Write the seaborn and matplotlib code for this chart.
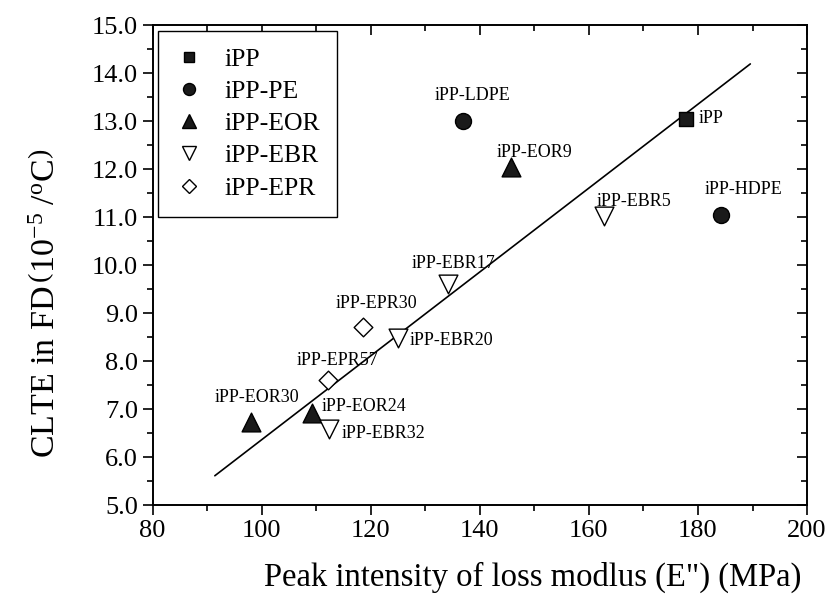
import numpy as np
import pandas as pd
import matplotlib
matplotlib.use("Agg")
import matplotlib.pyplot as plt
from matplotlib.lines import Line2D
from matplotlib.ticker import MultipleLocator, FormatStrFormatter
import seaborn as sns

# ---- data -------------------------------------------------------------
samples = ["iPP", "iPP-LDPE", "iPP-HDPE", "iPP-EOR9", "iPP-EOR24", "iPP-EOR30",
           "iPP-EBR5", "iPP-EBR17", "iPP-EBR20", "iPP-EBR32", "iPP-EPR30", "iPP-EPR57"]
groups = ["iPP", "iPP-PE", "iPP-PE", "iPP-EOR", "iPP-EOR", "iPP-EOR",
          "iPP-EBR", "iPP-EBR", "iPP-EBR", "iPP-EBR", "iPP-EPR", "iPP-EPR"]
loss_modulus = [177.8, 137.0, 184.3, 145.7, 109.3, 98.0,
                162.7, 134.1, 124.9, 112.4, 118.6, 112.1]
clte = [13.05, 13.0, 11.05, 12.05, 6.92, 6.72,
        11.03, 9.6, 8.48, 6.58, 8.7, 7.6]

# linear trend line end points
fit_x = [91.4, 189.6]
fit_y = [5.61, 14.19]

legend_order = ["iPP", "iPP-PE", "iPP-EOR", "iPP-EBR", "iPP-EPR"]

df = pd.DataFrame({"sample": samples, "group": groups,
                   "E": loss_modulus, "CLTE": clte})

# ---- styling ----------------------------------------------------------
sns.set_theme(style="ticks")
plt.rcParams["font.family"] = ["Liberation Serif", "DejaVu Serif"]
plt.rcParams["mathtext.fontset"] = "custom"
plt.rcParams["mathtext.rm"] = "Liberation Serif"
plt.rcParams["mathtext.it"] = "Liberation Serif:italic"
plt.rcParams["text.color"] = "black"
plt.rcParams["axes.labelcolor"] = "black"

marker_style = {
    "iPP":     dict(marker="s", s=9.5 ** 2, fc="#1a1a1a"),
    "iPP-PE":  dict(marker="o", s=11.5 ** 2, fc="#1a1a1a"),
    "iPP-EOR": dict(marker="^", s=13.5 ** 2, fc="#1a1a1a"),
    "iPP-EBR": dict(marker="v", s=13.5 ** 2, fc="white"),
    "iPP-EPR": dict(marker="D", s=9.5 ** 2, fc="white"),
}

fig = plt.figure(figsize=(8.37, 6.02), dpi=100)
ax = fig.add_axes([0.1824, 0.1611, 0.7818, 0.7973])

ax.plot(fit_x, fit_y, color="black", lw=1.2, zorder=2)

for g in legend_order:
    st = marker_style[g]
    sub = df[df["group"] == g]
    sns.scatterplot(data=sub, x="E", y="CLTE", ax=ax, marker=st["marker"],
                    s=st["s"], color=st["fc"], edgecolor="black",
                    linewidth=1.0, zorder=3, legend=False)

# sample labels: offset in points (dx, dy)
label_pos = {
    "iPP":       (9, -3),
    "iPP-LDPE":  (-21, 15),
    "iPP-HDPE":  (-12, 15),
    "iPP-EOR9":  (-10, 7),
    "iPP-EOR24": (7, 1),
    "iPP-EOR30": (-26, 15),
    "iPP-EBR5":  (-5, 7),
    "iPP-EBR17": (-26, 12),
    "iPP-EBR20": (9, -5),
    "iPP-EBR32": (9, -6),
    "iPP-EPR30": (-20, 14),
    "iPP-EPR57": (-22, 11),
}
for name, x, y in zip(samples, loss_modulus, clte):
    dx, dy = label_pos[name]
    ax.annotate(name, (x, y), xytext=(dx, dy), textcoords="offset points",
                ha="left", va="baseline", fontsize=13, color="black")

ax.set_xlim(80, 200)
ax.set_ylim(5.0, 15.0)
ax.xaxis.set_major_locator(MultipleLocator(20))
ax.xaxis.set_minor_locator(MultipleLocator(10))
ax.yaxis.set_major_locator(MultipleLocator(1.0))
ax.yaxis.set_minor_locator(MultipleLocator(0.5))
ax.yaxis.set_major_formatter(FormatStrFormatter("%.1f"))

ax.tick_params(which="both", direction="out", top=False, right=False,
               colors="black", labelsize=19)
ax.tick_params(which="major", length=7, width=1.2)
ax.tick_params(which="minor", length=4.5, width=1.2)

# inward ticks on the top and right spines
for which, ln in (("major", 7), ("minor", 4.5)):
    sec = ax.secondary_xaxis("top")
    sec.set_xticks(ax.get_xticks(minor=(which == "minor")))
    sec.tick_params(direction="in", length=ln, width=1.2, labeltop=False,
                    colors="black")
    sec.spines["top"].set_visible(False)
    sec2 = ax.secondary_yaxis("right")
    sec2.set_yticks(ax.get_yticks(minor=(which == "minor")))
    sec2.tick_params(direction="in", length=ln, width=1.2, labelright=False,
                     colors="black")
    sec2.spines["right"].set_visible(False)

for sp in ax.spines.values():
    sp.set_visible(True)
    sp.set_color("black")
    sp.set_linewidth(1.4)

ax.set_xlabel('Peak intensity of loss modlus (E") (MPa)', fontsize=23.5)
ax.xaxis.set_label_coords(0.58, -0.118)
ax.set_ylabel(r"CLTE in FD$\,\left(\mathrm{10}^{-5}\ /^{\mathrm{o}}\mathrm{C}\right)$",
              fontsize=24.5)
ax.yaxis.set_label_coords(-0.138, 0.42)

handles = []
for g in legend_order:
    st = marker_style[g]
    handles.append(Line2D([], [], ls="none", marker=st["marker"],
                          markersize=np.sqrt(st["s"]) * 0.75,
                          markerfacecolor=st["fc"], markeredgecolor="black",
                          markeredgewidth=1.0, label=g))
leg = ax.legend(handles=handles, loc="upper left", fontsize=18.5,
                frameon=True, fancybox=False, edgecolor="black",
                framealpha=1, borderpad=0.66, labelspacing=0.36,
                handletextpad=0.8, borderaxespad=0.22, handlelength=1.1)
leg.get_frame().set_linewidth(1.0)

fig.savefig("out.png", dpi=100)
